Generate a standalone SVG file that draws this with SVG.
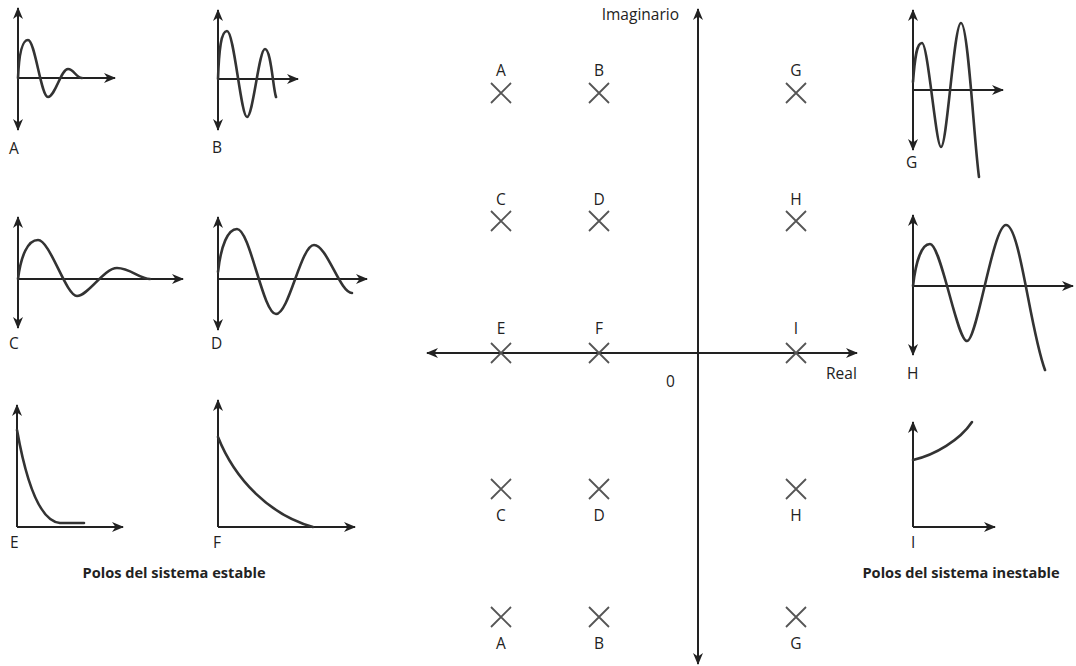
<svg xmlns="http://www.w3.org/2000/svg" width="1076" height="666" viewBox="0 0 1076 666">
<defs>
<marker id="ah" viewBox="0 0 12 10" refX="11" refY="5" markerWidth="12" markerHeight="10" markerUnits="userSpaceOnUse" orient="auto-start-reverse">
<path d="M0,0 L12,5 L0,10 L3.5,5 z" fill="#222"/>
</marker>
<path id="x" d="M-10,-10 L10,10 M-10,10 L10,-10"/>
</defs>
<style>
.ax{stroke:#222;stroke-width:2;fill:none}
.cv{stroke:#333;stroke-width:2.6;fill:none;stroke-linecap:round}
.lb{font-family:"Open Sans","Liberation Sans",sans-serif;font-size:15.5px;fill:#222}
.pl{font-family:"Open Sans","Liberation Sans",sans-serif;font-size:15.5px;fill:#222;text-anchor:middle}
.cap{font-family:"Open Sans","Liberation Sans",sans-serif;font-size:14.6px;font-weight:bold;fill:#222;text-anchor:middle}
.pole{stroke:#555;stroke-width:1.8;fill:none}
</style>
<rect width="1076" height="666" fill="#fff"/>

<g id="plotA">
<path class="ax" d="M18,130 L18,8" marker-start="url(#ah)" marker-end="url(#ah)"/>
<path class="ax" d="M18,78 L115,78" marker-end="url(#ah)"/>
<path class="cv" d="M18,78 C19,55 22,40 28,40 C35,40 41,97 48,97 C55,97 61,69 68,69 C74,69 76,78 82,78"/>
<text class="lb" x="9" y="154">A</text>
</g>
<g id="plotB">
<path class="ax" d="M218,130 L218,10" marker-start="url(#ah)" marker-end="url(#ah)"/>
<path class="ax" d="M218,79 L298,79" marker-end="url(#ah)"/>
<path class="cv" d="M218,79 C219,50 221,31 227,31 C234,31 241,117 247,117 C253,117 259,49 265,49 C271,49 273,88 276,97"/>
<text class="lb" x="212" y="153">B</text>
</g>
<g id="plotC">
<path class="ax" d="M18,328 L18,217" marker-start="url(#ah)" marker-end="url(#ah)"/>
<path class="ax" d="M18,279 L183,279" marker-end="url(#ah)"/>
<path class="cv" d="M18,279 C21,255 28,240 38,240 C50,240 66,296 77,296 C88,296 104,268 117,268 C130,268 140,279 150,279"/>
<text class="lb" x="9" y="349">C</text>
</g>
<g id="plotD">
<path class="ax" d="M218,330 L218,217" marker-start="url(#ah)" marker-end="url(#ah)"/>
<path class="ax" d="M218,279 L367,279" marker-end="url(#ah)"/>
<path class="cv" d="M218,272 C221,245 228,229 237,229 C250,229 263,314 276,314 C289,314 301,245 314,245 C327,245 340,293 352,293"/>
<text class="lb" x="211" y="349">D</text>
</g>
<g id="plotE">
<path class="ax" d="M17,527 L17,405" marker-end="url(#ah)"/>
<path class="ax" d="M17,527 L123,527" marker-end="url(#ah)"/>
<path class="cv" d="M17,430 C25,475 38,521 60,523 L84,523"/>
<text class="lb" x="10" y="548">E</text>
</g>
<g id="plotF">
<path class="ax" d="M218,527 L218,400" marker-end="url(#ah)"/>
<path class="ax" d="M218,527 L355,527" marker-end="url(#ah)"/>
<path class="cv" d="M218,437 C235,480 270,515 313,527"/>
<text class="lb" x="213" y="548">F</text>
</g>
<text class="cap" x="174" y="578">Polos del sistema estable</text>

<g id="plotG">
<path class="ax" d="M913,150 L913,10" marker-start="url(#ah)" marker-end="url(#ah)"/>
<path class="ax" d="M913,90 L1003,90" marker-end="url(#ah)"/>
<path class="cv" d="M913,82 C915,55 917,43 922,43 C928,43 936,147 941,147 C947,147 954,23 961,23 C968,23 974,140 979,177"/>
<text class="lb" x="906" y="168">G</text>
</g>
<g id="plotH">
<path class="ax" d="M913,355 L913,215" marker-start="url(#ah)" marker-end="url(#ah)"/>
<path class="ax" d="M913,286 L1073,286" marker-end="url(#ah)"/>
<path class="cv" d="M913,286 C916,260 922,244 930,244 C941,244 957,341 967,341 C977,341 993,225 1006,225 C1020,225 1030,330 1045,370"/>
<text class="lb" x="907" y="379">H</text>
</g>
<g id="plotI">
<path class="ax" d="M913,527 L913,422" marker-end="url(#ah)"/>
<path class="ax" d="M913,527 L995,527" marker-end="url(#ah)"/>
<path class="cv" d="M913,460 C935,455 960,440 972,422"/>
<text class="lb" x="911" y="548">I</text>
</g>
<text class="cap" x="961" y="578">Polos del sistema inestable</text>

<g id="connectors">
<path class="ax" d="M698,664 L698,9" marker-start="url(#ah)" marker-end="url(#ah)"/>
<path class="ax" d="M427,353 L857,353" marker-start="url(#ah)" marker-end="url(#ah)"/>
</g>
<text class="lb" x="679" y="20" text-anchor="end">Imaginario</text>
<text class="lb" x="826" y="379">Real</text>
<text class="lb" x="666" y="387">0</text>

<g id="poles">
<g class="pole">
<use href="#x" x="501" y="93"/><use href="#x" x="599" y="93"/><use href="#x" x="796" y="93"/>
<use href="#x" x="501" y="221"/><use href="#x" x="599" y="221"/><use href="#x" x="796" y="221"/>
<use href="#x" x="501" y="353"/><use href="#x" x="599" y="353"/><use href="#x" x="796" y="353"/>
<use href="#x" x="501" y="489"/><use href="#x" x="599" y="489"/><use href="#x" x="796" y="489"/>
<use href="#x" x="501" y="617"/><use href="#x" x="599" y="617"/><use href="#x" x="796" y="617"/>
</g>
<text class="pl" x="501" y="76">A</text><text class="pl" x="599" y="76">B</text><text class="pl" x="796" y="76">G</text>
<text class="pl" x="501" y="205">C</text><text class="pl" x="599" y="205">D</text><text class="pl" x="796" y="205">H</text>
<text class="pl" x="501" y="334">E</text><text class="pl" x="599" y="334">F</text><text class="pl" x="796" y="334">I</text>
<text class="pl" x="501" y="521">C</text><text class="pl" x="599" y="521">D</text><text class="pl" x="796" y="521">H</text>
<text class="pl" x="501" y="649">A</text><text class="pl" x="599" y="649">B</text><text class="pl" x="796" y="649">G</text>
</g>
</svg>
